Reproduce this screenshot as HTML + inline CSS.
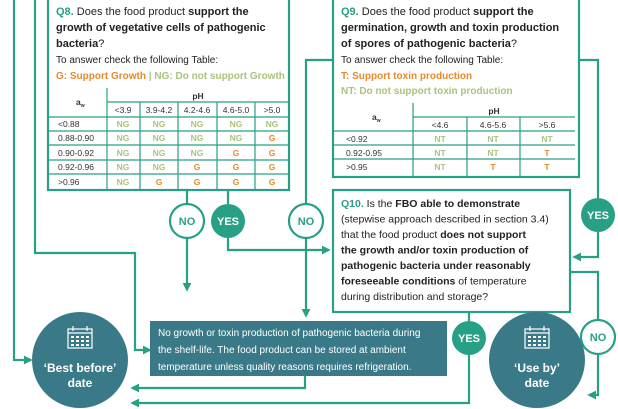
<!DOCTYPE html>
<html><head><meta charset="utf-8"><style>
html,body{margin:0;padding:0;background:#fff;}
svg{display:block;font-family:"Liberation Sans",sans-serif;}
</style></head><body>
<svg width="618" height="409" viewBox="0 0 618 409" xmlns="http://www.w3.org/2000/svg">
<defs>
<marker id="a" viewBox="0 0 10 10" refX="8" refY="5" markerWidth="4" markerHeight="4" orient="auto"><path d="M0,0L10,5L0,10z" fill="#27a085"/></marker>
<g id="cal">
<rect x="0" y="3" width="24" height="19" fill="none" stroke="#fff" stroke-width="1.2"/>
<line x1="0" y1="7" x2="24" y2="7" stroke="#fff" stroke-width="1.2"/>
<line x1="5" y1="0" x2="5" y2="5" stroke="#fff" stroke-width="1.2"/>
<line x1="19" y1="0" x2="19" y2="5" stroke="#fff" stroke-width="1.2"/>
<g fill="#fff">
<rect x="3" y="10" width="3" height="2"/><rect x="8" y="10" width="3" height="2"/><rect x="13" y="10" width="3" height="2"/><rect x="18" y="10" width="3" height="2"/>
<rect x="3" y="14" width="3" height="2"/><rect x="8" y="14" width="3" height="2"/><rect x="13" y="14" width="3" height="2"/><rect x="18" y="14" width="3" height="2"/>
<rect x="3" y="18" width="3" height="2"/><rect x="8" y="18" width="3" height="2"/><rect x="13" y="18" width="3" height="2"/><rect x="18" y="18" width="3" height="2"/>
</g>
</g>
</defs>
<g fill="none" stroke="#27a085" stroke-width="2.2">
<polyline points="14,0 14,360 31,360" marker-end="url(#a)"/>
<polyline points="35,0 35,253 135,253 135,350 150,350" marker-end="url(#a)"/>
<rect x="48" y="-5" width="241" height="195"/>
<rect x="333" y="-5" width="246" height="182"/>
<rect x="333" y="190" width="237" height="122"/>
<line x1="187" y1="190" x2="187" y2="204"/>
<line x1="228" y1="190" x2="228" y2="204"/>
<polyline points="187,238 187,290" marker-end="url(#a)"/>
<polyline points="228,238 228,250 329,250" marker-end="url(#a)"/>
<polyline points="333,60 306,60 306,204"/>
<polyline points="306,238 306,316" marker-end="url(#a)"/>
<polyline points="579,60 598,60 598,198"/>
<polyline points="598,232 598,257 574,257" marker-end="url(#a)"/>
<polyline points="570,272 598,272 598,320"/>
<polyline points="598,354 598,395 589,395" marker-end="url(#a)"/>
<polyline points="469,312 469,321"/>
<polyline points="469,355 469,403 132,403" marker-end="url(#a)"/>
<polyline points="305,376 305,388 132,388" marker-end="url(#a)"/>
<g stroke-width="1.2">
<line x1="48" y1="117" x2="289" y2="117"/>
<line x1="48" y1="131" x2="289" y2="131"/>
<line x1="48" y1="145" x2="289" y2="145"/>
<line x1="48" y1="160" x2="289" y2="160"/>
<line x1="48" y1="174" x2="289" y2="174"/>
<line x1="107" y1="102" x2="289" y2="102"/>
<line x1="107" y1="88" x2="107" y2="190"/>
<line x1="140" y1="102" x2="140" y2="190"/>
<line x1="178" y1="102" x2="178" y2="190"/>
<line x1="217" y1="102" x2="217" y2="190"/>
<line x1="255" y1="102" x2="255" y2="190"/>
<line x1="333" y1="131" x2="575" y2="131"/>
<line x1="333" y1="145" x2="575" y2="145"/>
<line x1="333" y1="159" x2="575" y2="159"/>
<line x1="413" y1="117" x2="575" y2="117"/>
<line x1="413" y1="103" x2="413" y2="177"/>
<line x1="467" y1="117" x2="467" y2="177"/>
<line x1="520" y1="117" x2="520" y2="177"/>
</g>
</g>
<circle cx="187" cy="221" r="17" fill="#fff" stroke="#27a085" stroke-width="2.2"/>
<circle cx="228" cy="221" r="17" fill="#27a085"/>
<circle cx="306" cy="221" r="17" fill="#fff" stroke="#27a085" stroke-width="2.2"/>
<circle cx="598" cy="215" r="17" fill="#27a085"/>
<circle cx="469" cy="338" r="17" fill="#27a085"/>
<circle cx="598" cy="337" r="17" fill="#fff" stroke="#27a085" stroke-width="2.2"/>
<g font-weight="bold" font-size="11" text-anchor="middle">
<text x="187" y="225" fill="#27a085">NO</text>
<text x="228" y="225" fill="#fff">YES</text>
<text x="306" y="225" fill="#27a085">NO</text>
<text x="598" y="219" fill="#fff">YES</text>
<text x="469" y="342" fill="#fff">YES</text>
<text x="598" y="341" fill="#27a085">NO</text>
</g>
<circle cx="80" cy="360" r="48" fill="#3a7a88"/>
<circle cx="537" cy="360" r="48" fill="#3a7a88"/>
<use href="#cal" x="68" y="326"/>
<use href="#cal" x="525" y="326"/>
<g font-weight="bold" font-size="12" fill="#fff" text-anchor="middle">
<text x="80" y="372">‘Best before’</text><text x="80" y="387">date</text>
<text x="537" y="372">‘Use by’</text><text x="537" y="387">date</text>
</g>
<rect x="150" y="321" width="297" height="55" fill="#3a7a88"/>
<g fill="#fff" font-size="10">
<text x="158" y="336">No growth or toxin production of pathogenic bacteria during</text>
<text x="158" y="353">the shelf-life. The food product can be stored at ambient</text>
<text x="158" y="370">temperature unless quality reasons requires refrigeration.</text>
</g>
<g font-size="11" fill="#222">
<text x="56" y="15"><tspan fill="#27a085" font-weight="bold">Q8.</tspan> Does the food product <tspan font-weight="bold">support the</tspan></text>
<text x="56" y="31" font-weight="bold">growth of vegetative cells of pathogenic</text>
<text x="56" y="47"><tspan font-weight="bold">bacteria</tspan>?</text>
<text x="56" y="63" font-size="10">To answer check the following Table:</text>
<text x="56" y="79" font-size="10" font-weight="bold"><tspan fill="#e8892b">G: Support Growth</tspan> <tspan fill="#aac37d">| NG: Do not support Growth</tspan></text>
</g>
<g font-size="8.5" fill="#333">
<text x="76" y="105" font-weight="bold">a<tspan font-size="5" dy="2">w</tspan></text>
<text x="198" y="99" font-weight="bold" text-anchor="middle">pH</text>
<g text-anchor="middle"><text x="123" y="113">&lt;3.9</text><text x="159" y="113">3.9-4.2</text><text x="197" y="113">4.2-4.6</text><text x="236" y="113">4.6-5.0</text><text x="272" y="113">&gt;5.0</text></g>
<text x="58" y="127">&lt;0.88</text><text x="58" y="141">0.88-0.90</text><text x="58" y="156">0.90-0.92</text><text x="58" y="170">0.92-0.96</text><text x="58" y="185">&gt;0.96</text>
</g>
<g font-size="8.5" font-weight="bold" text-anchor="middle">
<g fill="#aac37d">
<text x="123" y="127">NG</text><text x="159" y="127">NG</text><text x="197" y="127">NG</text><text x="236" y="127">NG</text><text x="272" y="127">NG</text>
<text x="123" y="141">NG</text><text x="159" y="141">NG</text><text x="197" y="141">NG</text><text x="236" y="141">NG</text>
<text x="123" y="156">NG</text><text x="159" y="156">NG</text><text x="197" y="156">NG</text>
<text x="123" y="170">NG</text><text x="159" y="170">NG</text>
<text x="123" y="185">NG</text>
</g>
<g fill="#e8892b">
<text x="272" y="141">G</text>
<text x="236" y="156">G</text><text x="272" y="156">G</text>
<text x="197" y="170">G</text><text x="236" y="170">G</text><text x="272" y="170">G</text>
<text x="159" y="185">G</text><text x="197" y="185">G</text><text x="236" y="185">G</text><text x="272" y="185">G</text>
</g>
</g>
<g font-size="11" fill="#222">
<text x="341" y="15"><tspan fill="#27a085" font-weight="bold">Q9.</tspan> Does the food product <tspan font-weight="bold">support the</tspan></text>
<text x="341" y="31" font-weight="bold">germination, growth and toxin production</text>
<text x="341" y="47"><tspan font-weight="bold">of spores of pathogenic bacteria</tspan>?</text>
<text x="341" y="63" font-size="10">To answer check the following Table:</text>
<text x="341" y="79" font-size="10" font-weight="bold" fill="#e8892b">T: Support toxin production</text>
<text x="341" y="94" font-size="10" font-weight="bold" fill="#aac37d">NT: Do not support toxin production</text>
</g>
<g font-size="8.5" fill="#333">
<text x="372" y="120" font-weight="bold">a<tspan font-size="5" dy="2">w</tspan></text>
<text x="494" y="114" font-weight="bold" text-anchor="middle">pH</text>
<g text-anchor="middle"><text x="440" y="128">&lt;4.6</text><text x="493" y="128">4.6-5.6</text><text x="547" y="128">&gt;5.6</text></g>
<text x="346" y="142">&lt;0.92</text><text x="346" y="156">0.92-0.95</text><text x="346" y="170">&gt;0.95</text>
</g>
<g font-size="8.5" font-weight="bold" text-anchor="middle">
<g fill="#aac37d"><text x="440" y="142">NT</text><text x="493" y="142">NT</text><text x="547" y="142">NT</text><text x="440" y="156">NT</text><text x="493" y="156">NT</text><text x="440" y="170">NT</text></g>
<g fill="#e8892b"><text x="547" y="156">T</text><text x="493" y="170">T</text><text x="547" y="170">T</text></g>
</g>
<g font-size="10.5" fill="#222">
<text x="341" y="207"><tspan fill="#27a085" font-weight="bold">Q10.</tspan> Is the <tspan font-weight="bold">FBO able to demonstrate</tspan></text>
<text x="341" y="222.5">(stepwise approach described in section 3.4)</text>
<text x="341" y="238">that the food product <tspan font-weight="bold">does not support</tspan></text>
<text x="341" y="253.5" font-weight="bold">the growth and/or toxin production of</text>
<text x="341" y="269" font-weight="bold">pathogenic bacteria under reasonably</text>
<text x="341" y="284.5"><tspan font-weight="bold">foreseeable conditions</tspan> of temperature</text>
<text x="341" y="300">during distribution and storage?</text>
</g>
</svg>
</body></html>
